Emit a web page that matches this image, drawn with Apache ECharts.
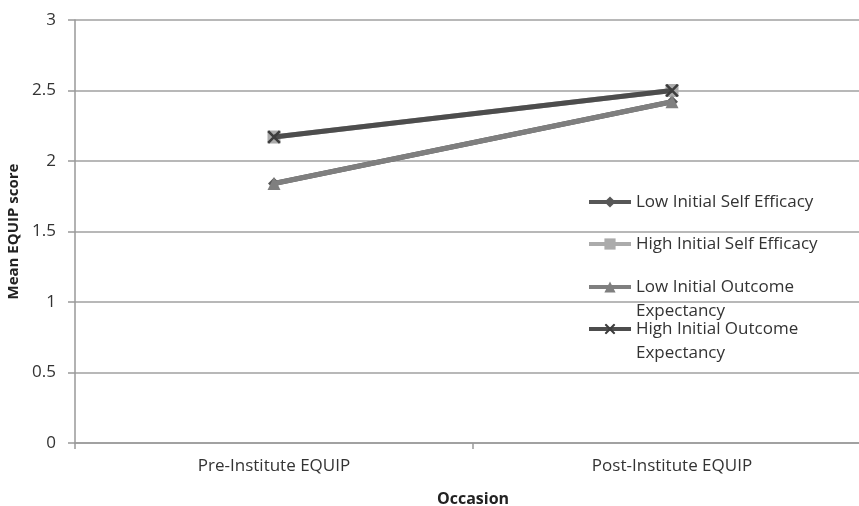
<!DOCTYPE html>
<html>
<head>
<meta charset="utf-8">
<script src="https://cdn.jsdelivr.net/npm/echarts@6/dist/echarts.min.js"></script>
<style>html,body{margin:0;padding:0;background:#fff}#c{width:859px;height:506px}</style>
</head>
<body>
<div id="c"></div>
<script>
const categories = ['Pre-Institute EQUIP', 'Post-Institute EQUIP'];
const seriesNames = ['Low Initial Self Efficacy', 'High Initial Self Efficacy', 'Low Initial Outcome Expectancy', 'High Initial Outcome Expectancy'];
const lowSelfEfficacy = [1.84, 2.42];
const highSelfEfficacy = [2.17, 2.50];
const lowOutcomeExpectancy = [1.84, 2.42];
const highOutcomeExpectancy = [2.17, 2.50];
const yTicks = [0, 0.5, 1, 1.5, 2, 2.5, 3];

const font = '"Open Sans", sans-serif';
const colors = ['#575757', '#ababab', '#7f7f7f', '#4d4d4d'];
const symbols = ['diamond', 'rect', 'triangle', 'image://data:image/svg+xml;utf8,' + encodeURIComponent('<svg xmlns="http://www.w3.org/2000/svg" width="12" height="12"><path d="M1 1L11 11M11 1L1 11" stroke="#3d3d3d" stroke-width="2.2"/></svg>')];
const symbolSizes = [12, 13, 13, 14];
const dataSets = [lowSelfEfficacy, highSelfEfficacy, lowOutcomeExpectancy, highOutcomeExpectancy];
const legendLabels = ['Low Initial Self Efficacy', 'High Initial Self Efficacy', '\nLow Initial Outcome\nExpectancy', '\nHigh Initial Outcome\nExpectancy'];
const legendTops = [202, 244, 287, 329];

const chart = echarts.init(document.getElementById('c'), null, {renderer: 'canvas'});
const option = {
  animation: false,
  backgroundColor: '#fff',
  grid: {left: 75, right: -12, top: 20, bottom: 63, outerBoundsMode: 'none', containLabel: false},
  legend: seriesNames.map((n, i) => ({
    data: [n],
    orient: 'vertical',
    left: 587,
    top: legendTops[i] - (i >= 2 ? 36 : 12),
    padding: 0,
    itemWidth: 42,
    itemHeight: 14,
    itemGap: 0,
    lineStyle: {width: 4},
    formatter: () => legendLabels[i],
    textStyle: {fontFamily: font, fontSize: 17, color: '#333', lineHeight: 24}
  })),
  xAxis: {
    type: 'category',
    data: categories,
    boundaryGap: true,
    name: 'Occasion',
    nameLocation: 'middle',
    nameGap: 48,
    nameTextStyle: {fontFamily: font, fontSize: 16, fontWeight: 'bold', color: '#222'},
    axisLine: {lineStyle: {color: '#999', width: 1.5}},
    axisTick: {show: true, length: 6, lineStyle: {color: '#999', width: 1.5}},
    axisLabel: {fontFamily: font, fontSize: 17, color: '#333', margin: 15}
  },
  yAxis: {
    type: 'value',
    min: yTicks[0],
    max: yTicks[yTicks.length - 1],
    interval: 0.5,
    name: 'Mean EQUIP score',
    nameLocation: 'middle',
    nameGap: 48,
    nameTextStyle: {fontFamily: font, fontSize: 15, fontWeight: 'bold', color: '#222'},
    axisLine: {show: true, lineStyle: {color: '#999', width: 1.5}},
    axisTick: {show: true, length: 7, lineStyle: {color: '#999', width: 1.5}},
    axisLabel: {fontFamily: font, fontSize: 17, color: '#333', margin: 19},
    splitLine: {lineStyle: {color: '#a0a0a0', width: 1.5}}
  },
  series: seriesNames.map((n, i) => ({
    name: n,
    type: 'line',
    data: dataSets[i],
    symbol: symbols[i],
    symbolSize: symbolSizes[i],
    showAllSymbol: true,
    lineStyle: {color: colors[i], width: 5},
    itemStyle: {color: colors[i]},
    z: 2 + i
  }))
};
chart.setOption(option);
</script>
</body>
</html>
